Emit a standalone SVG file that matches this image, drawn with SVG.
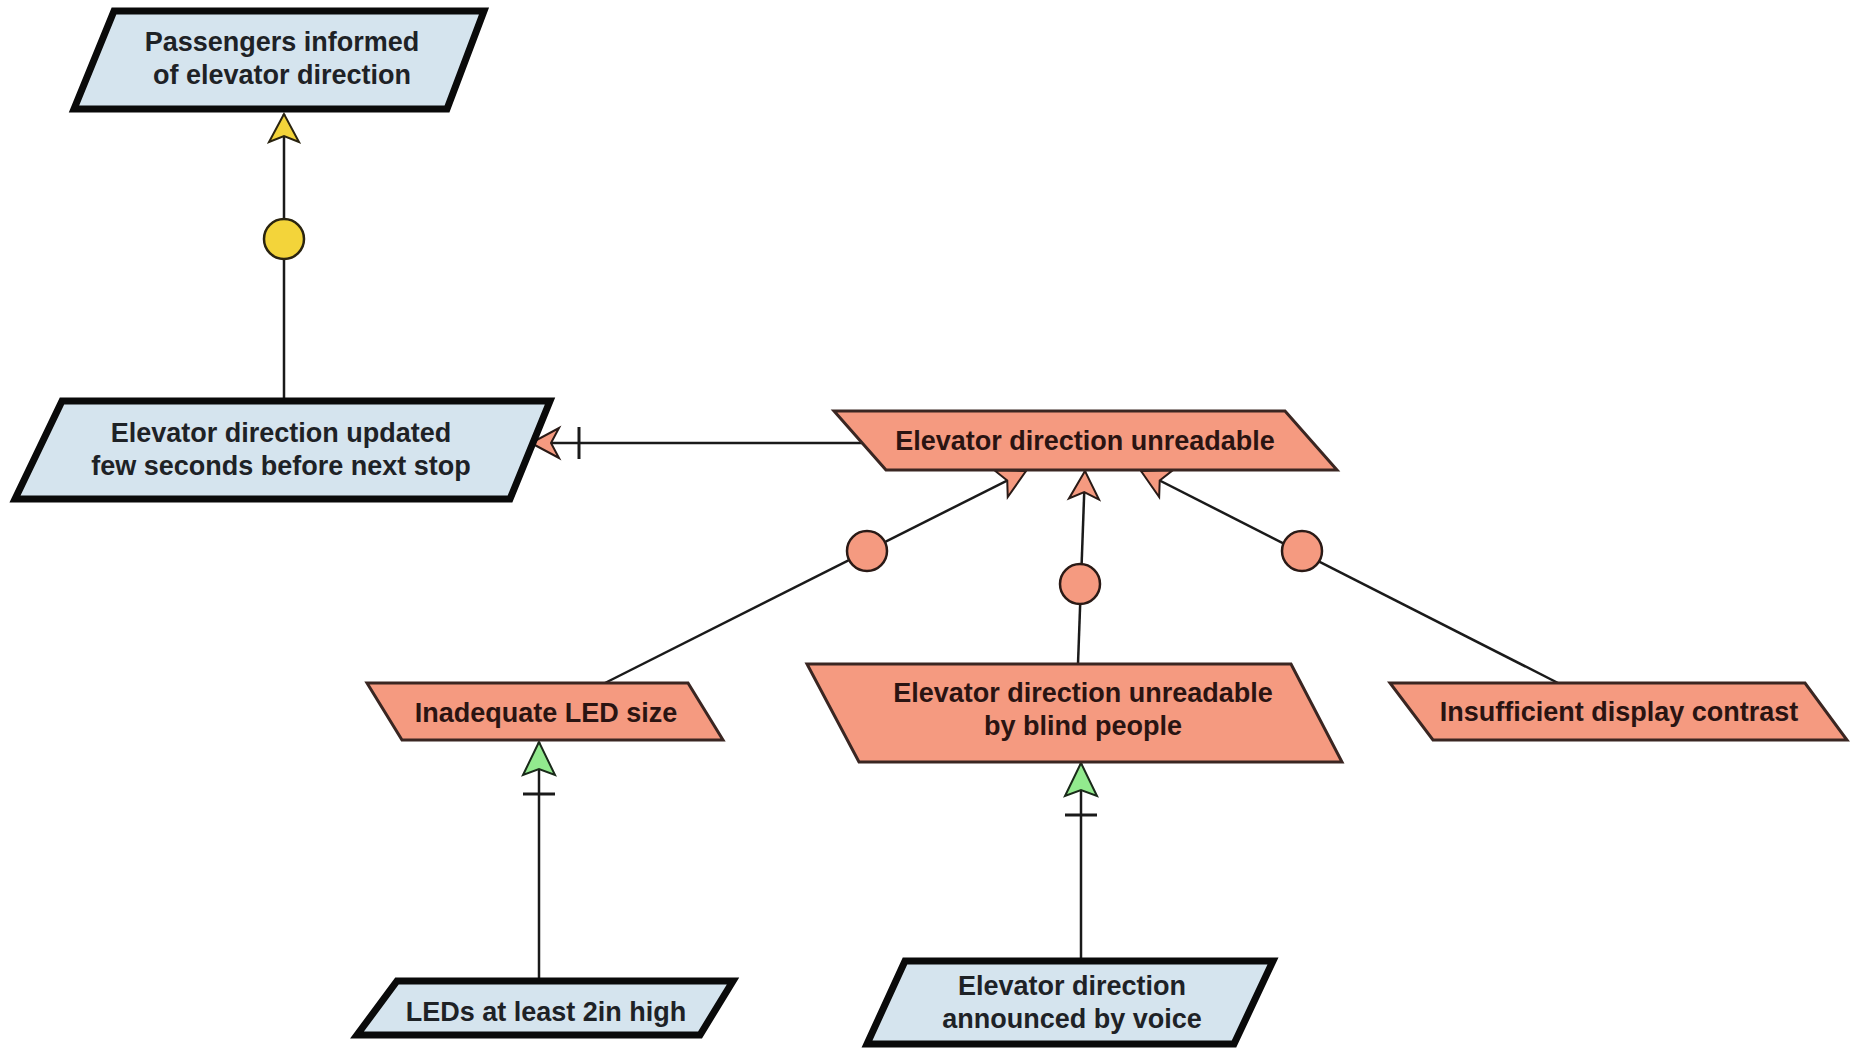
<svg xmlns="http://www.w3.org/2000/svg" width="1854" height="1053" viewBox="0 0 1854 1053">
  <style>
    .goal { fill: #d5e4ee; stroke: #0a0a0a; stroke-width: 7; stroke-linejoin: miter; }
    .obst { fill: #f59a80; stroke: #3a2622; stroke-width: 3; stroke-linejoin: miter; }
    .lbl { font-family: "Liberation Sans", Arial, sans-serif; font-weight: bold; font-size: 27px; text-anchor: middle; }
    .lbl-goal { fill: #1e2226; }
    .lbl-obst { fill: #2a1412; }
    .link { fill: none; stroke: #1a1a1a; stroke-width: 2.5; }
    .and-y { fill: #f3d43a; stroke: #2a2410; stroke-width: 2.5; }
    .and-s { fill: #f59a80; stroke: #2a1a16; stroke-width: 2.5; }
  </style>
  <defs>
    <marker id="arr-yellow" viewBox="-40 -20 44 40" refX="0" refY="0" markerWidth="44" markerHeight="40" markerUnits="userSpaceOnUse" orient="auto" overflow="visible">
      <path d="M0,0 L-28,-15 L-22,0 L-28,15 Z" fill="#f3d43a" stroke="#2a2410" stroke-width="2"/>
    </marker>
    <marker id="arr-salmon" viewBox="-40 -20 44 40" refX="0" refY="0" markerWidth="44" markerHeight="40" markerUnits="userSpaceOnUse" orient="auto" overflow="visible">
      <path d="M0,0 L-28,-15 L-21,0 L-28,15 Z" fill="#f59a80" stroke="#2a1a16" stroke-width="2"/>
    </marker>
    <marker id="arr-salmon-bar" viewBox="-60 -20 64 40" refX="0" refY="0" markerWidth="64" markerHeight="40" markerUnits="userSpaceOnUse" orient="auto" overflow="visible">
      <path d="M-48,-16 L-48,16" stroke="#1a1a1a" stroke-width="3"/>
      <path d="M0,0 L-28,-15 L-20,0 L-28,15 Z" fill="#f59a80" stroke="#2a1a16" stroke-width="2"/>
    </marker>
    <marker id="arr-green-bar" viewBox="-60 -20 64 40" refX="0" refY="0" markerWidth="64" markerHeight="40" markerUnits="userSpaceOnUse" orient="auto" overflow="visible">
      <path d="M-52,-16 L-52,16" stroke="#1a1a1a" stroke-width="3"/>
      <path d="M0,0 L-33,-16 L-27,0 L-33,16 Z" fill="#92ea8e" stroke="#1a2a1a" stroke-width="2"/>
    </marker>
  </defs>

  <rect width="1854" height="1053" fill="#ffffff"/>

  <!-- connectors -->
  <g id="connectors">
    <line class="link" x1="284" y1="398" x2="284" y2="114" marker-end="url(#arr-yellow)"/>
    <circle class="and-y" cx="284" cy="239" r="20"/>

    <line class="link" x1="862" y1="443" x2="531" y2="443" marker-end="url(#arr-salmon-bar)"/>

    <line class="link" x1="605" y1="683" x2="1026" y2="471" marker-end="url(#arr-salmon)"/>
    <circle class="and-s" cx="867" cy="551" r="20"/>

    <line class="link" x1="1078" y1="664" x2="1085" y2="471" marker-end="url(#arr-salmon)"/>
    <circle class="and-s" cx="1080" cy="584" r="20"/>

    <line class="link" x1="1558" y1="683" x2="1141" y2="471" marker-end="url(#arr-salmon)"/>
    <circle class="and-s" cx="1302" cy="551" r="20"/>

    <line class="link" x1="539" y1="981" x2="539" y2="742" marker-end="url(#arr-green-bar)"/>
    <line class="link" x1="1081" y1="961" x2="1081" y2="763" marker-end="url(#arr-green-bar)"/>
  </g>

  <!-- goals -->
  <g id="goal-passengers-informed">
    <path class="goal" d="M114,11 L484,11 L447,109 L74,109 Z"/>
    <text class="lbl lbl-goal" x="282" y="51">Passengers informed</text>
    <text class="lbl lbl-goal" x="282" y="84">of elevator direction</text>
  </g>

  <g id="goal-direction-updated">
    <path class="goal" d="M62,401 L550,401 L510,499 L15,499 Z"/>
    <text class="lbl lbl-goal" x="281" y="442">Elevator direction updated</text>
    <text class="lbl lbl-goal" x="281" y="475">few seconds before next stop</text>
  </g>

  <g id="goal-leds-2in">
    <path class="goal" d="M397,981 L733,981 L700,1035 L357,1035 Z"/>
    <text class="lbl lbl-goal" x="546" y="1021">LEDs at least 2in high</text>
  </g>

  <g id="goal-voice">
    <path class="goal" d="M905,961 L1273,961 L1234,1044 L867,1044 Z"/>
    <text class="lbl lbl-goal" x="1072" y="995">Elevator direction</text>
    <text class="lbl lbl-goal" x="1072" y="1028">announced by voice</text>
  </g>

  <!-- obstacles -->
  <g id="obstacle-unreadable">
    <path class="obst" d="M834,411 L1285,411 L1337,470 L886,470 Z"/>
    <text class="lbl lbl-obst" x="1085" y="450">Elevator direction unreadable</text>
  </g>

  <g id="obstacle-led-size">
    <path class="obst" d="M367,683 L688,683 L723,740 L402,740 Z"/>
    <text class="lbl lbl-obst" x="546" y="722">Inadequate LED size</text>
  </g>

  <g id="obstacle-blind">
    <path class="obst" d="M807,664 L1291,664 L1342,762 L859,762 Z"/>
    <text class="lbl lbl-obst" x="1083" y="702">Elevator direction unreadable</text>
    <text class="lbl lbl-obst" x="1083" y="735">by blind people</text>
  </g>

  <g id="obstacle-contrast">
    <path class="obst" d="M1390,683 L1805,683 L1847,740 L1433,740 Z"/>
    <text class="lbl lbl-obst" x="1619" y="721">Insufficient display contrast</text>
  </g>
</svg>
